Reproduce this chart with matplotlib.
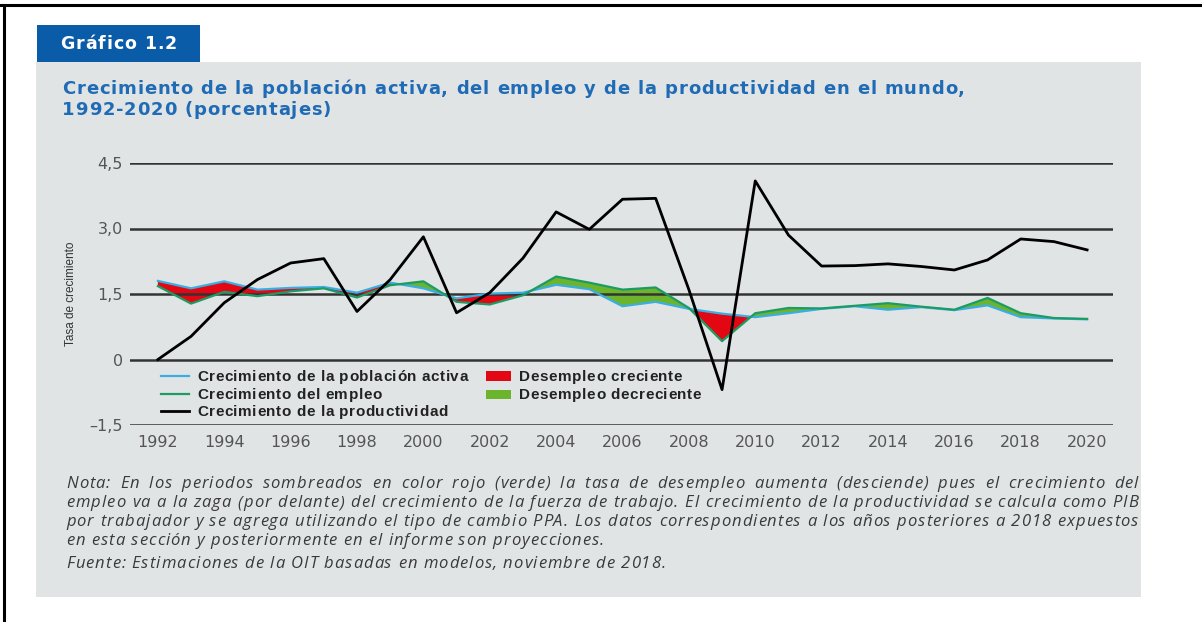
import matplotlib
matplotlib.use("Agg")
import matplotlib.pyplot as plt
from matplotlib.patches import Rectangle
from matplotlib.lines import Line2D
from matplotlib.font_manager import FontProperties

# Series (percent growth)
years = list(range(1992, 2021))
labour_force = [1.80, 1.63, 1.79, 1.60, 1.64, 1.66, 1.53, 1.76, 1.63, 1.40,
                1.51, 1.53, 1.71, 1.61, 1.22, 1.32, 1.16, 1.05, 0.97, 1.06,
                1.16, 1.22, 1.14, 1.20, 1.13, 1.24, 0.97, 0.94, 0.92]
employment = [1.68, 1.28, 1.55, 1.45, 1.56, 1.63, 1.42, 1.70, 1.79, 1.32,
              1.26, 1.47, 1.90, 1.76, 1.60, 1.65, 1.18, 0.42, 1.06, 1.18,
              1.17, 1.23, 1.29, 1.21, 1.14, 1.41, 1.06, 0.95, 0.93]
productivity = [0.00, 0.53, 1.30, 1.83, 2.21, 2.31, 1.10, 1.83, 2.81, 1.07,
                1.53, 2.32, 3.38, 2.98, 3.67, 3.69, 1.60, -0.69, 4.09, 2.85,
                2.14, 2.15, 2.19, 2.13, 2.05, 2.28, 2.76, 2.70, 2.51]

yticks = [-1.5, 0, 1.5, 3.0, 4.5]
ytick_labels = ["–1,5", "0", "1,5", "3,0", "4,5"]
xticks = list(range(1992, 2021, 2))

legend_lines = ["Crecimiento de la población activa", "Crecimiento del empleo",
                "Crecimiento de la productividad"]
legend_areas = ["Desempleo creciente", "Desempleo decreciente"]
title_lines = ["Crecimiento de la población activa, del empleo y de la productividad en el mundo,",
               "1992-2020 (porcentajes)"]
note_lines = ["Nota: En los periodos sombreados en color rojo (verde) la tasa de desempleo aumenta (desciende) pues el crecimiento del",
              "empleo va a la zaga (por delante) del crecimiento de la fuerza de trabajo. El crecimiento de la productividad se calcula como PIB",
              "por trabajador y se agrega utilizando el tipo de cambio PPA. Los datos correspondientes a los años posteriores a 2018 expuestos",
              "en esta sección y posteriormente en el informe son proyecciones."]
source = "Fuente: Estimaciones de la OIT basadas en modelos, noviembre de 2018."

W, H = 1202, 622
BLUE = "#3aaee2"
GREEN_LINE = "#1c9c64"
RED_FILL = "#e30613"
GREEN_FILL = "#6cb42c"
PANEL = "#e1e4e5"

fig = plt.figure(figsize=(W / 100, H / 100), dpi=100)
fig.patch.set_facecolor("white")
renderer = fig.canvas.get_renderer()

def fx(x):
    return x / W

def fy(y):
    return 1 - y / H

# --- letter-spaced text (the printed fonts are tracked a little wider) ---
_adv = {}

def adv(c, fp):
    key = (c, fp.get_family()[0], fp.get_weight(), fp.get_style(), fp.get_size())
    if key not in _adv:
        w1 = renderer.get_text_width_height_descent("H" + c + "H", fp, False)[0]
        w0 = renderer.get_text_width_height_descent("HH", fp, False)[0]
        _adv[key] = w1 - w0
    return _adv[key]

def fit_track(s, fp, span):
    nat = sum(adv(c, fp) for c in s)
    return max(0.0, (span - nat) / (len(s) - 1))

def spaced(s, x, y, fp, color, track, width=None):
    words = s.split(" ")
    ww = [sum(adv(c, fp) for c in w) + track * (len(w) - 1) for w in words]
    if width is None:
        gap = adv(" ", fp) + 2 * track
    else:
        gap = (width - sum(ww)) / (len(words) - 1)
    for w, wl in zip(words, ww):
        cx = x
        for c in w:
            fig.text(fx(cx), fy(y), c, fontproperties=fp, color=color, va="baseline")
            cx += adv(c, fp) + track
        x += wl + gap

# frame lines (top and left)
fig.add_artist(Line2D([0, 1], [fy(5), fy(5)], color="black", lw=2.2))
fig.add_artist(Line2D([fx(4), fx(4)], [0, fy(5)], color="black", lw=2.2))

# grey panel and blue tab
fig.add_artist(Rectangle((fx(36), fy(597)), fx(1141) - fx(36), fy(62) - fy(597),
                         facecolor=PANEL, edgecolor="none", zorder=-10))
fig.add_artist(Rectangle((fx(37), fy(62)), fx(200) - fx(37), fy(25) - fy(62),
                         facecolor="#0a5ca8", edgecolor="none", zorder=-10))
tab_fp = FontProperties(family="DejaVu Sans", weight="bold", size=12.5)
spaced("Gráfico 1.2", 60, 49, tab_fp, "white", fit_track("Gráfico 1.2", tab_fp, 117))

title_fp = FontProperties(family="DejaVu Sans", weight="bold", size=13)
tr = fit_track(title_lines[0], title_fp, 903)
spaced(title_lines[0], 62, 94, title_fp, "#1f6bb5", tr)
spaced(title_lines[1], 62, 115, title_fp, "#1f6bb5", tr)

# chart
ax = fig.add_axes([fx(130), fy(425), fx(1113) - fx(130), fy(163) - fy(425)])
ax.set_facecolor("none")
ax.fill_between(years, labour_force, employment,
                where=[e < l for e, l in zip(employment, labour_force)],
                interpolate=True, color=RED_FILL, lw=0, zorder=1)
ax.fill_between(years, labour_force, employment,
                where=[e >= l for e, l in zip(employment, labour_force)],
                interpolate=True, color=GREEN_FILL, lw=0, zorder=1)
for tk in yticks:
    ax.axhline(tk, color="#333333", lw=1.8, zorder=2)
ax.plot(years, labour_force, color=BLUE, lw=1.6, zorder=3)
ax.plot(years, employment, color=GREEN_LINE, lw=1.6, zorder=3)
ax.plot(years, productivity, color="black", lw=2.0, zorder=4,
        solid_joinstyle="round")

ax.set_xlim(1991.16, 2020.78)
ax.set_ylim(-1.5, 4.5)
for s in ax.spines.values():
    s.set_visible(False)
ax.set_yticks(yticks)
ax.set_yticklabels(ytick_labels)
ax.set_xticks(xticks)
ax.set_xticklabels([str(x) for x in xticks])
ax.tick_params(length=0, labelsize=11.5, labelcolor="#555555")
ax.tick_params(axis="y", pad=5)
ax.tick_params(axis="x", pad=7)
fig.text(fx(71), fy(294), "Tasa de crecimiento", rotation=90, ha="center",
         va="center", fontsize=8.5, color="#333333", family="Liberation Sans")

# legend, laid out like the print
leg_fp = FontProperties(family="Liberation Sans", weight="bold", size=11)
leg_tr = fit_track(legend_lines[0], leg_fp, 271)
rows = [376, 394, 411]
for label, col, lw, y in zip(legend_lines, [BLUE, GREEN_LINE, "black"], [1.6, 1.6, 2.0], rows):
    fig.add_artist(Line2D([fx(161), fx(189)], [fy(y), fy(y)], color=col, lw=lw))
    spaced(label, 197, y + 5, leg_fp, "#222222", leg_tr)
for label, col, y in zip(legend_areas, [RED_FILL, GREEN_FILL], rows):
    fig.add_artist(Rectangle((fx(486), fy(y + 4.5)), fx(511) - fx(486), fy(y - 4.5) - fy(y + 4.5),
                             facecolor=col, edgecolor="none"))
    spaced(label, 519, y + 5, leg_fp, "#222222", leg_tr)

# notes: first three lines justified to the panel width
note_fp = FontProperties(family="Open Sans", style="italic", size=12)
note_tr = fit_track(note_lines[3], note_fp, 538)
for line, y in zip(note_lines[:3], [488, 507, 526]):
    spaced(line, 66, y, note_fp, "#3a3a3a", note_tr, width=1072)
spaced(note_lines[3], 66, 545, note_fp, "#3a3a3a", note_tr)
spaced(source, 66, 568, note_fp, "#3a3a3a", note_tr)

fig.savefig("out.png", dpi=100)
